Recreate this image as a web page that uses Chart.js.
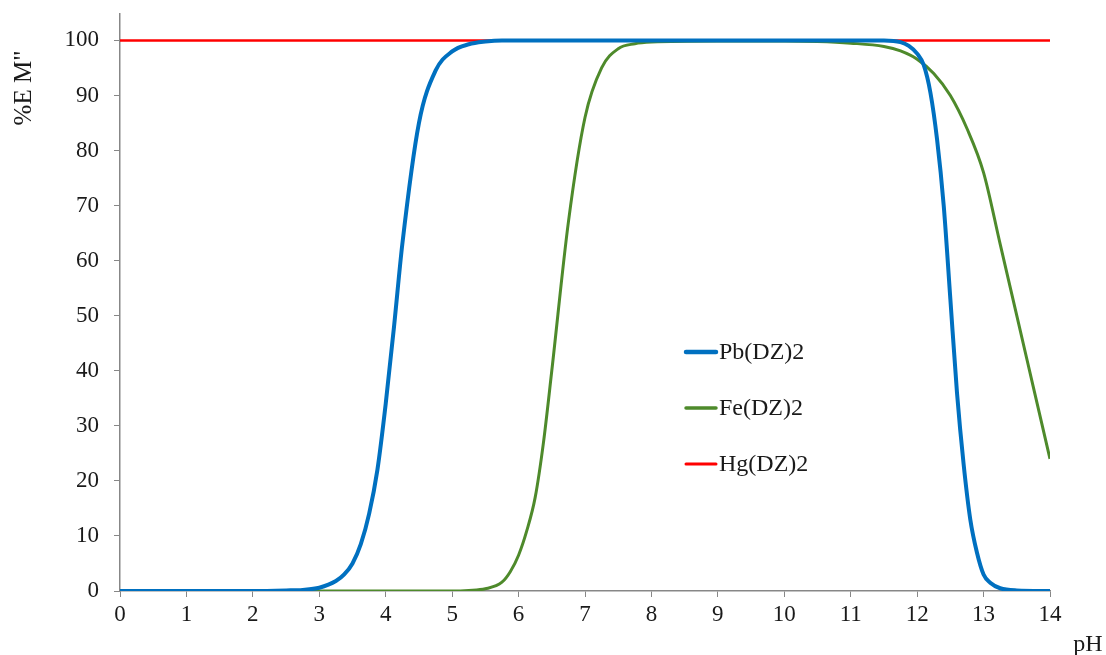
<!DOCTYPE html>
<html>
<head>
<meta charset="utf-8">
<script src="https://cdn.jsdelivr.net/npm/chart.js@4.4.1/dist/chart.umd.min.js"></script>
<style>
  html, body { margin: 0; padding: 0; background: #fff; }
  #wrap { width: 1106px; height: 655px; position: relative; }
</style>
</head>
<body>
<div id="wrap"><canvas id="chart"></canvas></div>
<script>
// Pb(DZ)2
const pbX = [0, 1, 2, 2.5, 2.75, 3, 3.25, 3.375, 3.5, 3.625, 3.75, 3.875, 4, 4.125, 4.25, 4.5, 4.75, 5, 5.25, 5.5, 5.75, 6, 7, 8, 9, 10, 11, 11.5, 11.75, 11.875, 12, 12.1, 12.2, 12.3, 12.4, 12.5, 12.6, 12.7, 12.8, 12.9, 13, 13.1, 13.25, 13.5, 14];
const pbY = [0, 0, 0, 0.1, 0.2, 0.6, 1.8, 3, 5, 8.5, 14, 22, 34, 48, 63, 85, 94.5, 98, 99.3, 99.8, 100, 100, 100, 100, 100, 100, 100, 100, 99.7, 99, 97.6, 95.5, 90.5, 82, 70, 53, 36, 23, 13, 7, 3, 1.5, 0.5, 0.1, 0];

// Fe(DZ)2
const feX = [0, 1, 2, 3, 4, 5, 5.25, 5.5, 5.75, 5.875, 6, 6.125, 6.25, 6.375, 6.5, 6.75, 7, 7.25, 7.5, 7.75, 8, 9, 10, 10.5, 11, 11.5, 11.75, 12, 12.25, 12.5, 12.75, 13, 13.25, 13.5, 13.75, 14];
const feY = [0, 0, 0, 0, 0, 0, 0.1, 0.4, 1.6, 3.5, 6.5, 11, 17, 27, 40, 67, 86, 95, 98.5, 99.4, 99.7, 99.9, 99.9, 99.8, 99.5, 98.9, 98.1, 96.6, 94, 90, 84, 76, 63, 50, 37, 24];

// Hg(DZ)2
const hgX = [0, 14];
const hgY = [100, 100];

const seriesNames = ['Pb(DZ)2', 'Fe(DZ)2', 'Hg(DZ)2'];
const yTickValues = [0, 10, 20, 30, 40, 50, 60, 70, 80, 90, 100];
const yTitle = '%E M"';
const xTitle = 'pH';

const toPoints = (xs, ys) => xs.map((x, i) => ({ x: x, y: ys[i] }));

const FONT = "'Liberation Serif', 'Times New Roman', serif";
const AXIS_GREY = '#878787';

// Legend drawn inside the plot area, plus the two axis titles
const extras = {
    id: 'extras',
    afterDatasetsDraw(chart) {
        const ctx = chart.ctx;
        const area = chart.chartArea;
        ctx.save();
        ctx.fillStyle = '#1a1a1a';
        ctx.font = '24px ' + FONT;
        ctx.textBaseline = 'middle';

        // legend
        const lx = area.left + 566;
        chart.data.datasets.forEach((ds, i) => {
            const y = area.top + 338 + i * 56;
            ctx.strokeStyle = ds.borderColor;
            ctx.lineWidth = ds.legendWidth;
            ctx.lineCap = 'round';
            ctx.beginPath();
            ctx.moveTo(lx, y);
            ctx.lineTo(lx + 30, y);
            ctx.stroke();
            ctx.textAlign = 'left';
            ctx.fillText(ds.label, lx + 33, y + 1);
        });

        // y title, rotated, near the top
        ctx.save();
        ctx.translate(area.left - 96, area.top + 74);
        ctx.rotate(-Math.PI / 2);
        ctx.textAlign = 'center';
        ctx.font = '25px ' + FONT;
        ctx.fillText(yTitle, 0, 0);
        ctx.restore();

        // x title, past the right end
        ctx.textAlign = 'center';
        ctx.font = '24px ' + FONT;
        ctx.fillText(xTitle, area.right + 38, area.bottom + 54);
        ctx.restore();
    }
};

new Chart(document.getElementById('chart'), {
    type: 'line',
    data: {
        datasets: [
            {
                label: seriesNames[0],
                data: toPoints(pbX, pbY),
                borderColor: '#0070C0',
                borderWidth: 4,
                legendWidth: 4.5,
                cubicInterpolationMode: 'monotone',
                pointRadius: 0,
                fill: false
            },
            {
                label: seriesNames[1],
                data: toPoints(feX, feY),
                borderColor: '#4E8A2B',
                borderWidth: 3,
                legendWidth: 3.5,
                cubicInterpolationMode: 'monotone',
                pointRadius: 0,
                fill: false
            },
            {
                label: seriesNames[2],
                data: toPoints(hgX, hgY),
                borderColor: '#FF0000',
                borderWidth: 2.5,
                legendWidth: 3,
                pointRadius: 0,
                fill: false
            }
        ]
    },
    plugins: [extras],
    options: {
        responsive: true,
        maintainAspectRatio: false,
        animation: false,
        layout: { padding: { left: 0, right: 56, top: 14, bottom: 0 } },
        plugins: {
            legend: { display: false },
            tooltip: { enabled: false }
        },
        scales: {
            x: {
                type: 'linear',
                min: 0,
                max: 14,
                afterFit: (scale) => {
                    scale.height = 64;
                    scale.paddingLeft = 0;
                    scale.paddingRight = 0;
                },
                ticks: {
                    stepSize: 1,
                    autoSkip: false,
                    color: '#1a1a1a',
                    padding: 4,
                    maxRotation: 0,
                    font: { family: FONT, size: 23 }
                },
                grid: {
                    drawOnChartArea: false,
                    drawTicks: true,
                    tickLength: 6,
                    color: AXIS_GREY,
                    lineWidth: 1
                },
                border: { color: AXIS_GREY, width: 1.5 }
            },
            y: {
                min: 0,
                max: 104.8,
                afterFit: (scale) => {
                    scale.width = 120;
                    scale.paddingTop = 0;
                    scale.paddingBottom = 0;
                },
                afterBuildTicks: (scale) => {
                    scale.ticks = yTickValues.map(v => ({ value: v }));
                },
                ticks: {
                    stepSize: 10,
                    autoSkip: false,
                    color: '#1a1a1a',
                    padding: 15,
                    font: { family: FONT, size: 23 }
                },
                grid: {
                    drawOnChartArea: false,
                    drawTicks: true,
                    tickLength: 6,
                    color: AXIS_GREY,
                    lineWidth: 1
                },
                border: { color: AXIS_GREY, width: 1.5 }
            }
        }
    }
});
</script>
</body>
</html>
